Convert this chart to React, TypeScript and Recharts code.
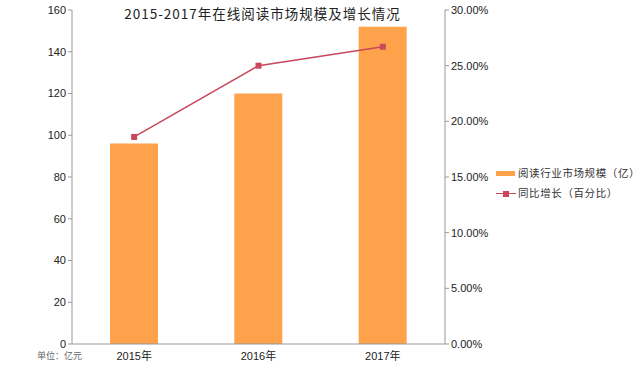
import React from "react";
import {
  ComposedChart,
  Bar,
  Line,
  XAxis,
  YAxis,
} from "recharts";

const years = ["2015年", "2016年", "2017年"];
const marketSize = [96, 120, 152];
const growthRate = [0.186, 0.25, 0.267];
const leftTicks = [0, 20, 40, 60, 80, 100, 120, 140, 160];
const rightTicks = [0, 0.05, 0.1, 0.15, 0.2, 0.25, 0.3];

const data = years.map((year, i) => ({
  year,
  size: marketSize[i],
  growth: growthRate[i],
}));

const BAR_COLOR = "#FFA24C";
const LINE_COLOR = "#C9485B";
const FONT = '"Liberation Sans", "Noto Sans CJK SC", sans-serif';

const SquareDot = (props: any) => {
  const { cx, cy } = props;
  if (cx == null || cy == null) return null;
  return <rect x={cx - 3} y={cy - 3} width={6} height={6} fill={LINE_COLOR} />;
};

// legend kept outside the chart so it doesn't eat the plot margins
const LegendBox = () => (
  <div
    style={{
      position: "absolute",
      left: 496,
      top: 163,
      width: 143,
      fontSize: 10.5,
      letterSpacing: 0.6,
      whiteSpace: "nowrap",
      color: "#333",
      fontFamily: '"Noto Sans CJK SC", sans-serif',
      lineHeight: "20px",
    }}
  >
    <div style={{ display: "flex", alignItems: "center" }}>
      <span style={{ width: 19, height: 5, background: BAR_COLOR, marginRight: 3, flexShrink: 0, display: "inline-block" }} />
      阅读行业市场规模（亿）
    </div>
    <div style={{ display: "flex", alignItems: "center" }}>
      <span style={{ position: "relative", width: 20, height: 9, marginRight: 2, flexShrink: 0, display: "inline-block" }}>
        <span style={{ position: "absolute", left: 0, top: 4, width: 20, height: 1.5, background: LINE_COLOR }} />
        <span style={{ position: "absolute", left: 7, top: 2, width: 6, height: 6, background: LINE_COLOR }} />
      </span>
      同比增长（百分比）
    </div>
  </div>
);

export default function App() {
  return (
    <div style={{ position: "absolute", left: 0, top: 0, width: 639, height: 368, background: "#fff", fontFamily: FONT }}>
      <ComposedChart
        width={639}
        height={368}
        data={data}
        margin={{ top: 10, right: 134, bottom: 0, left: 0 }}
      >
        <XAxis
          dataKey="year"
          tickLine={false}
          axisLine={{ stroke: "#999" }}
          tick={{ fill: "#222", fontSize: 11 }}
          height={24}
        />
        <YAxis
          yAxisId="left"
          domain={[0, 160]}
          ticks={leftTicks}
          width={72}
          tickSize={4}
          axisLine={{ stroke: "#999" }}
          tickLine={{ stroke: "#999" }}
          tick={{ fill: "#222", fontSize: 11 }}
        />
        <YAxis
          yAxisId="right"
          orientation="right"
          domain={[0, 0.3]}
          ticks={rightTicks}
          width={60}
          tickSize={4}
          axisLine={{ stroke: "#999" }}
          tickLine={{ stroke: "#999" }}
          tick={{ fill: "#222", fontSize: 11 }}
          tickFormatter={(v: number) => `${(v * 100).toFixed(2)}%`}
        />
        <Bar
          yAxisId="left"
          dataKey="size"
          fill={BAR_COLOR}
          barSize={48}
          isAnimationActive={false}
        />
        <Line
          yAxisId="right"
          dataKey="growth"
          stroke={LINE_COLOR}
          strokeWidth={1.5}
          dot={<SquareDot />}
          activeDot={false}
          isAnimationActive={false}
        />
      </ComposedChart>
      <div
        style={{
          position: "absolute",
          left: 76,
          width: 373,
          top: 3,
          textAlign: "center",
          fontSize: 13.5,
          color: "#222",
          fontFamily: '"Noto Sans CJK SC", sans-serif',
          letterSpacing: 1,
        }}
      >
        2015-2017年在线阅读市场规模及增长情况
      </div>
      <div
        style={{
          position: "absolute",
          left: 37,
          top: 349,
          fontSize: 9,
          color: "#666",
          fontFamily: '"Noto Sans CJK SC", sans-serif',
        }}
      >
        单位：亿元
      </div>
      <LegendBox />
    </div>
  );
}
